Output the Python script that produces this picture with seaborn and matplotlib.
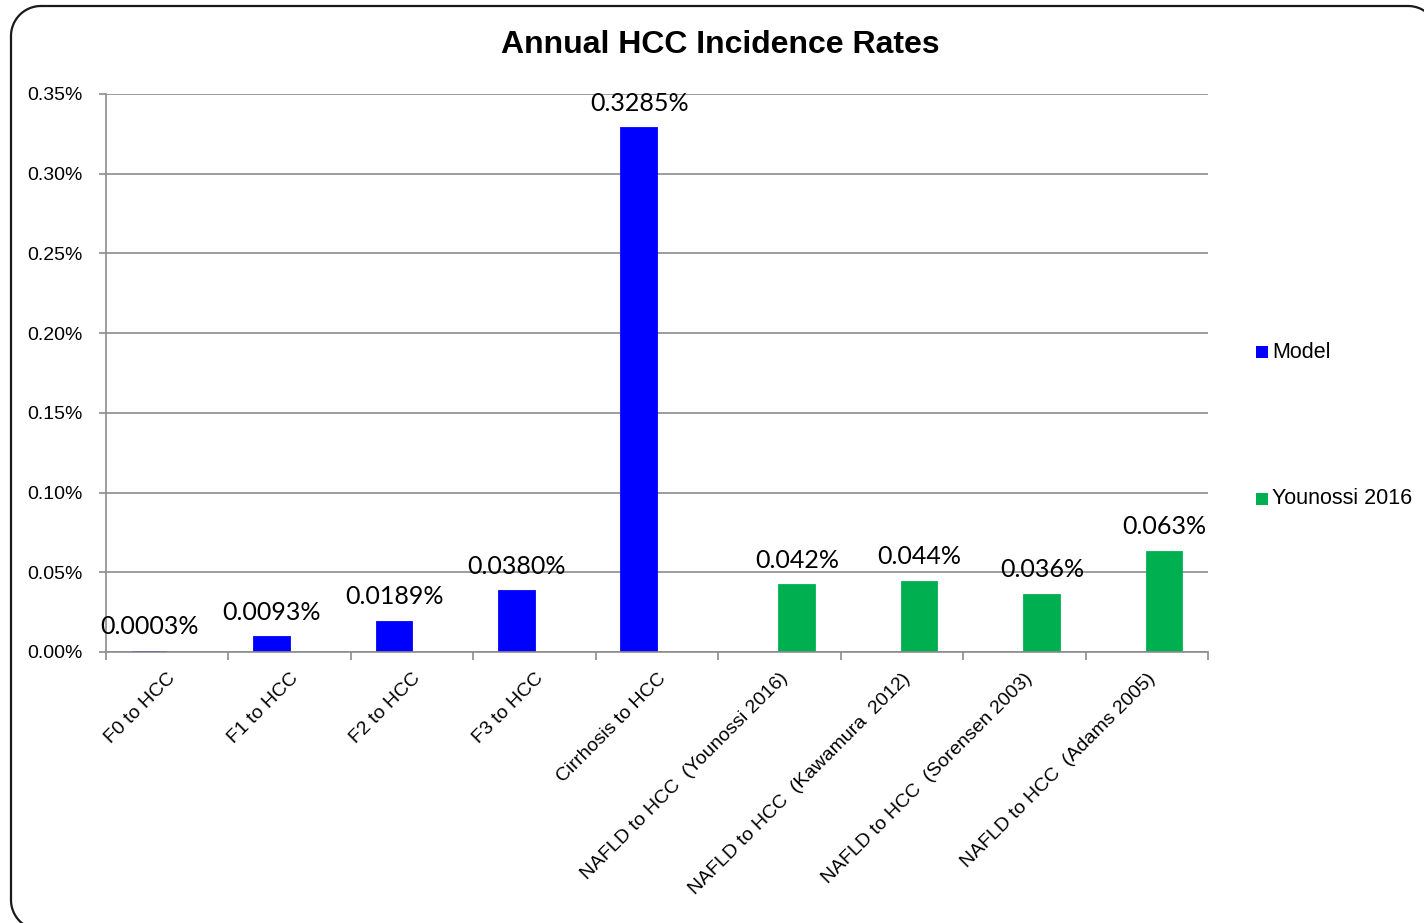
import matplotlib
matplotlib.use("Agg")
import matplotlib.pyplot as plt
from matplotlib.lines import Line2D
from matplotlib.ticker import FuncFormatter, MultipleLocator
import numpy as np
import pandas as pd
import seaborn as sns

# Transition categories and annual incidence rates (in percent)
categories = [
    "F0 to HCC", "F1 to HCC", "F2 to HCC", "F3 to HCC", "Cirrhosis to HCC",
    "NAFLD to HCC  (Younossi 2016)", "NAFLD to HCC  (Kawamura  2012)",
    "NAFLD to HCC  (Sorensen 2003)", "NAFLD to HCC  (Adams 2005)",
]
model_categories = categories[:5]
model_rates = [0.0003, 0.0093, 0.0189, 0.0380, 0.3285]
model_labels = ["0.0003%", "0.0093%", "0.0189%", "0.0380%", "0.3285%"]
study_categories = categories[5:]
study_rates = [0.042, 0.044, 0.036, 0.063]
study_labels = ["0.042%", "0.044%", "0.036%", "0.063%"]
series_names = ["Model", "Younossi 2016"]
series_colors = ["#0000FF", "#00B050"]

df = pd.DataFrame({
    "category": model_categories + study_categories,
    "rate": model_rates + study_rates,
    "series": [series_names[0]] * len(model_rates) + [series_names[1]] * len(study_rates),
    "label": model_labels + study_labels,
})

sns.set_theme(style="white")
plt.rcParams["font.family"] = ["Liberation Sans", "DejaVu Sans"]
for key in ["text.color", "axes.labelcolor", "xtick.color", "ytick.color"]:
    plt.rcParams[key] = "#000000"

W, H = 1424, 923
fig = plt.figure(figsize=(W / 100, H / 100), dpi=100)
ax = fig.add_axes([106 / W, 1 - 652 / H, (1208 - 106) / W, (652 - 94) / H])

sns.barplot(
    data=df, x="category", y="rate", hue="series", order=categories,
    hue_order=series_names, palette=series_colors, width=0.58,
    dodge=True, saturation=1, ax=ax, legend=False,
)

# value labels above each bar; thin outline keeps tiny bars visible
for container, name, color in zip(ax.containers, series_names, series_colors):
    sub = df[df["series"] == name]
    for bar in container:
        h = bar.get_height()
        if pd.isna(h) or bar.get_width() == 0:
            continue
        match = sub[(sub["rate"] - h).abs() < 1e-9]
        if match.empty:
            continue
        bar.set_edgecolor(color)
        bar.set_linewidth(1.3)
        cx = bar.get_x() + bar.get_width() / 2
        ax.annotate(match["label"].iloc[0], (cx, h), xytext=(0, 18),
                    textcoords="offset points", ha="center", va="center",
                    fontsize=18, family=["Lato", "DejaVu Sans"], color="#000000")

ax.set_ylim(0, 0.35)
ax.set_xlim(-0.5, len(categories) - 0.5)
ax.yaxis.set_major_locator(MultipleLocator(0.05))
ax.yaxis.set_major_formatter(FuncFormatter(lambda v, p: f"{v:.2f}%"))
ax.set_xlabel("")
ax.set_ylabel("")

grid_color = "#8c8c8c"
ax.grid(axis="y", color=grid_color, linewidth=1.2)
ax.set_axisbelow(True)
for side in ["top", "right"]:
    ax.spines[side].set_visible(False)
for side in ["left", "bottom"]:
    ax.spines[side].set_color(grid_color)
    ax.spines[side].set_linewidth(1.2)

ax.tick_params(axis="y", which="major", left=True, length=5, width=1.2,
               color=grid_color, labelsize=14, pad=12, labelcolor="#000000")
ax.set_xticks(range(len(categories)))
ax.set_xticklabels(categories, rotation=45, ha="right", rotation_mode="anchor",
                   fontsize=14, color="#000000")
ax.tick_params(axis="x", which="major", bottom=False, pad=7)
# category boundary ticks
ax.set_xticks([i - 0.5 for i in range(len(categories) + 1)], minor=True)
ax.tick_params(axis="x", which="minor", bottom=True, length=6, width=1.2,
               color=grid_color)

# legend on the right
for name, color, ypix in zip(series_names, series_colors, [352, 499]):
    fig.patches.append(plt.Rectangle((1256 / W, 1 - (ypix + 6) / H),
                                     12 / W, 12 / H,
                                     transform=fig.transFigure,
                                     facecolor=color, edgecolor="none"))
    fig.text(1272 / W, 1 - ypix / H, name, ha="left", va="center",
             fontsize=15.5)

fig.text(720 / W, 1 - 45 / H, "Annual HCC Incidence Rates", ha="center",
         va="center", fontsize=23, fontweight="bold")

# rounded chart frame (pixel units, top-left origin), running past the
# right and bottom edges of the canvas
left, top, right, bottom, r = 11, 6, 1438, 930, 30
def corner(cx, cy, a0, a1):
    t = np.radians(np.linspace(a0, a1, 24))
    return cx + r * np.cos(t), cy - r * np.sin(t)
pieces = [corner(left + r, top + r, 90, 180), corner(left + r, bottom - r, 180, 270),
          corner(right - r, bottom - r, 270, 360), corner(right - r, top + r, 0, 90)]
fx = np.concatenate([p[0] for p in pieces] + [pieces[0][0][:1]])
fy = np.concatenate([p[1] for p in pieces] + [pieces[0][1][:1]])
fig.add_artist(Line2D(fx / W, 1 - fy / H, transform=fig.transFigure,
                      color="#1a1a1a", linewidth=1.6, solid_joinstyle="round"))

fig.savefig("out.png", dpi=100, facecolor="white")
